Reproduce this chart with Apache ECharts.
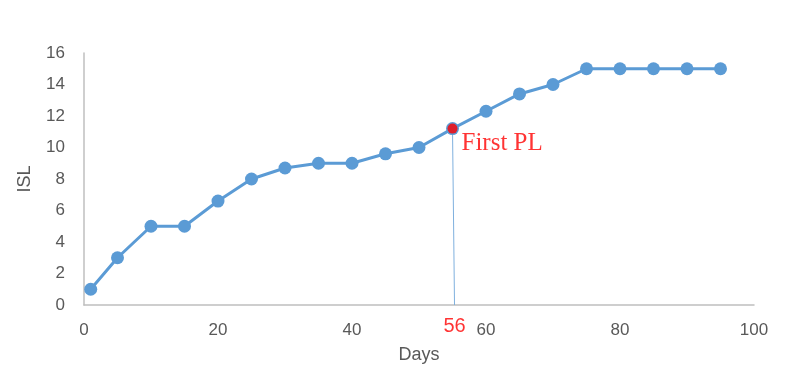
<!DOCTYPE html>
<html>
<head>
<meta charset="utf-8">
<script src="https://cdn.jsdelivr.net/npm/echarts@6/dist/echarts.min.js"></script>
<style>
html,body{margin:0;padding:0;background:#fff;}
#c{width:786px;height:371px;}
</style>
</head>
<body>
<div id="c"></div>
<script>
const days = [1, 5, 10, 15, 20, 25, 30, 35, 40, 45, 50, 55, 60, 65, 70, 75, 80, 85, 90, 95];
const isl = [1, 3, 5, 5, 6.6, 8, 8.7, 9, 9, 9.6, 10, 11.2, 12.3, 13.4, 14, 15, 15, 15, 15, 15];
const xTicks = [0, 20, 40, 60, 80, 100];
const yTicks = [0, 2, 4, 6, 8, 10, 12, 14, 16];
const plPoint = [55, 11.2];
const plFoot = [55.3, 0];
const plName = 'First PL';
const plDayLabel = '56';

const blue = '#5b9bd5';
const gray = '#595959';
const font = 'Liberation Sans';

const chart = echarts.init(document.getElementById('c'), null, {renderer: 'canvas'});
chart.setOption({
  animation: false,
  backgroundColor: '#fff',
  grid: {left: 84, right: 32, top: 53, bottom: 66, containLabel: false},
  xAxis: {
    type: 'value', min: xTicks[0], max: xTicks[xTicks.length - 1], interval: xTicks[1] - xTicks[0],
    name: 'Days', nameLocation: 'middle', nameGap: 41,
    nameTextStyle: {color: gray, fontSize: 18, fontFamily: font},
    axisLine: {show: true, lineStyle: {color: '#bfbfbf', width: 1.5}},
    axisTick: {show: false},
    splitLine: {show: false},
    axisLabel: {color: gray, fontSize: 17, fontFamily: font, margin: 17}
  },
  yAxis: {
    type: 'value', min: yTicks[0], max: yTicks[yTicks.length - 1], interval: yTicks[1] - yTicks[0],
    name: 'ISL', nameLocation: 'middle', nameGap: 50,
    nameTextStyle: {color: gray, fontSize: 18, fontFamily: font},
    axisLine: {show: true, lineStyle: {color: '#bfbfbf', width: 1.5}},
    axisTick: {show: false},
    splitLine: {show: false},
    axisLabel: {color: gray, fontSize: 17, fontFamily: font, margin: 19}
  },
  series: [
    {
      type: 'line',
      data: [plPoint, plFoot],
      symbol: 'none',
      lineStyle: {color: '#7fb0de', width: 1},
      z: 1,
      silent: true
    },
    {
      type: 'line',
      data: days.map((d, i) => [d, isl[i]]),
      symbol: 'circle',
      symbolSize: 13,
      lineStyle: {color: blue, width: 3},
      itemStyle: {color: blue},
      z: 2
    },
    {
      type: 'scatter',
      data: [plPoint],
      symbol: 'circle',
      symbolSize: 10,
      itemStyle: {color: '#ff0000'},
      z: 3,
      label: {
        show: true, formatter: plName, position: 'right', distance: 4, offset: [0, 15],
        color: '#ff0000', fontSize: 25, fontFamily: 'Liberation Serif'
      }
    },
    {
      type: 'scatter',
      data: [plFoot],
      symbolSize: 0,
      z: 3,
      label: {
        show: true, formatter: plDayLabel, position: 'bottom', distance: 11,
        color: '#ff0000', fontSize: 20, fontFamily: font
      }
    }
  ]
});
</script>
</body>
</html>
